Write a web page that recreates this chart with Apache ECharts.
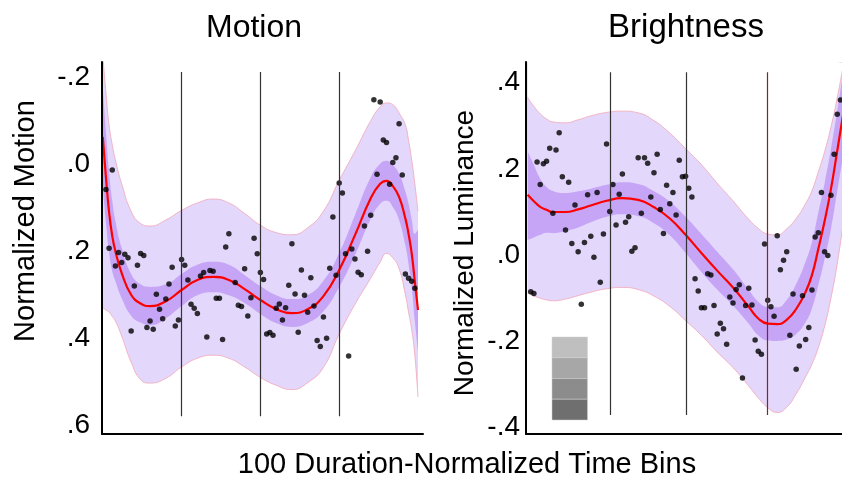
<!DOCTYPE html>
<html>
<head>
<meta charset="utf-8">
<script src="https://cdn.jsdelivr.net/npm/echarts@6/dist/echarts.min.js"></script>
<style>html,body{margin:0;padding:0;background:#fff}#c{width:842px;height:479px}</style>
</head>
<body>
<div id="c"></div>
<script>
// ---------- Motion panel ----------
const motionBins = [0,1,2,3,4,6,9,12,15,20,25,30,35,40,45,50,55,60,65,70,75,80,85,88,90,92,94,96,97,98,99,100];
const motionMean = [-0.063,0.03,0.11,0.165,0.20,0.25,0.30,0.32,0.326,0.315,0.289,0.266,0.259,0.266,0.287,0.312,0.333,0.342,0.333,0.303,0.243,0.163,0.078,0.045,0.038,0.050,0.075,0.125,0.160,0.205,0.270,0.335];
const motionInnerUpper = [-0.178,-0.074,0.018,0.084,0.131,0.192,0.252,0.276,0.282,0.276,0.252,0.231,0.224,0.231,0.255,0.280,0.301,0.310,0.301,0.268,0.204,0.117,0.030,-0.001,-0.008,0.002,0.022,0.063,0.091,0.127,0.160,0.150];
const motionInnerLower = [0.052,0.134,0.202,0.246,0.269,0.308,0.348,0.364,0.370,0.354,0.326,0.301,0.294,0.301,0.319,0.344,0.365,0.374,0.365,0.338,0.282,0.209,0.126,0.091,0.084,0.098,0.128,0.187,0.229,0.283,0.360,0.430];
const motionOuterUpper = [-0.25,-0.165,-0.09,-0.045,-0.01,0.045,0.108,0.136,0.142,0.128,0.106,0.089,0.080,0.089,0.113,0.140,0.157,0.162,0.146,0.108,0.037,-0.030,-0.100,-0.132,-0.141,-0.137,-0.118,-0.09,-0.055,-0.01,0.045,0.108];
const motionOuterLower = [0.33,0.335,0.34,0.35,0.36,0.395,0.455,0.495,0.503,0.492,0.466,0.446,0.439,0.446,0.466,0.490,0.508,0.518,0.502,0.467,0.390,0.322,0.262,0.225,0.205,0.215,0.240,0.300,0.340,0.380,0.440,0.535];
// one value per time bin, bins 1..99 (null = not visible)
const motionPoints = [0.058,0.193,0.013,0.234,0.203,0.226,0.207,0.215,0.383,0.280,
 0.232,0.205,0.210,0.375,0.360,0.379,0.299,0.333,0.355,0.310,
 0.275,0.237,0.372,0.358,0.219,0.232,0.266,0.322,0.331,0.343,
 0.257,0.249,0.397,0.244,0.246,0.308,0.308,0.403,0.190,0.160,
 null,0.272,0.324,0.327,0.240,0.349,0.307,0.170,0.206,0.249,
 0.265,0.390,0.387,0.393,0.331,0.321,0.358,0.330,0.278,0.183,
 0.298,0.386,0.243,0.301,0.340,0.261,0.326,0.405,0.419,0.351,
 0.400,0.239,0.121,0.255,0.043,0.066,0.206,0.441,0.195,0.218,
 0.248,0.254,0.142,0.200,0.117,-0.148,0.023,-0.143,-0.056,-0.050,
 0.046,-0.004,-0.015,-0.093,0.025,0.252,0.262,0.269,0.285];
const motionEvents = [25, 50, 75];
const motionTicks = [-0.2, 0, 0.2, 0.4, 0.6];

// ---------- Brightness panel ----------
const brightBins = [0,2,4,6,8,12,16,20,25,30,35,40,45,50,55,60,65,70,73,76,79,82,85,88,90,92,94,96,98,100];
const brightMean = [0.140,0.125,0.112,0.105,0.100,0.100,0.106,0.115,0.126,0.132,0.128,0.111,0.085,0.047,0.005,-0.036,-0.075,-0.120,-0.147,-0.159,-0.160,-0.150,-0.125,-0.085,-0.046,0.014,0.079,0.153,0.242,0.333];
const brightInnerUpper = [0.241,0.209,0.177,0.158,0.149,0.144,0.148,0.154,0.163,0.169,0.165,0.148,0.124,0.089,0.049,0.008,-0.033,-0.081,-0.108,-0.120,-0.121,-0.104,-0.067,-0.015,0.031,0.098,0.167,0.246,0.335,0.430];
const brightInnerLower = [0.035,0.041,0.047,0.052,0.051,0.056,0.064,0.076,0.089,0.095,0.091,0.074,0.046,0.005,-0.039,-0.080,-0.117,-0.159,-0.186,-0.198,-0.199,-0.196,-0.183,-0.155,-0.123,-0.070,-0.009,0.060,0.149,0.236];
const brightOuterUpper = [0.366,0.345,0.328,0.316,0.309,0.307,0.314,0.323,0.331,0.334,0.330,0.312,0.283,0.247,0.210,0.167,0.126,0.083,0.062,0.049,0.047,0.061,0.085,0.120,0.150,0.193,0.240,0.297,0.365,0.445];
const brightOuterLower = [-0.088,-0.095,-0.100,-0.104,-0.106,-0.102,-0.094,-0.086,-0.078,-0.075,-0.080,-0.095,-0.119,-0.152,-0.186,-0.225,-0.261,-0.304,-0.331,-0.354,-0.365,-0.353,-0.322,-0.282,-0.253,-0.215,-0.165,-0.100,-0.020,0.080];
const brightPoints = [-0.085,-0.089,0.216,0.164,0.212,0.218,0.248,0.097,0.244,0.284,
 0.182,0.058,0.169,0.027,0.116,0.008,-0.114,0.029,0.140,0.044,
 -0.005,0.145,-0.063,0.049,0.258,0.101,0.164,0.070,0.141,0.188,
 0.076,0.089,0.009,0.017,0.226,0.097,0.226,0.213,0.135,0.191,
 0.234,0.106,0.050,0.162,0.119,0.145,0.093,0.220,0.182,0.183,
 0.155,0.135,-0.055,-0.083,-0.122,-0.122,-0.043,-0.046,-0.117,-0.183,
 -0.158,-0.171,-0.207,-0.097,-0.111,-0.080,-0.069,-0.285,-0.117,-0.077,
 -0.116,-0.197,-0.223,-0.230,0.026,-0.105,-0.120,-0.142,0.045,-0.034,
 -0.012,0.008,-0.186,-0.090,-0.265,-0.211,-0.094,-0.196,-0.168,-0.081,
 0.042,0.052,0.145,0.008,-0.001,0.139,0.234,0.327,0.360];
const brightEvents = [26.3, 50.3, 76];
const brightTicks = [-0.4, -0.2, 0, 0.2, 0.4];

// ---------- text ----------
const titles = ['Motion', 'Brightness'];
const yNames = ['Normalized Motion', 'Normalized Luminance'];
const xName = '100 Duration-Normalized Time Bins';
const legendShades = ['#bfbfbf', '#a7a7a7', '#8c8c8c', '#6f6f6f'];

const FONT = '"Liberation Sans", Arial, Helvetica, sans-serif';
const OUTER = '#e3d7fb', INNER = '#c6a5f6', EDGE = '#f2a6b6', RED = '#ff0000', BG = '#ffffff';

function fmt(v) {
  if (Math.abs(v) < 1e-9) return '.0';
  return v.toFixed(1).replace('0.', '.');
}

// area from an edge curve to the top of the plot (layered painting gives the bands)
function edgeArea(idx, bins, vals, fill, edge, origin) {
  return {
    type: 'line', xAxisIndex: idx, yAxisIndex: idx, smooth: true, symbol: 'none', silent: true,
    z: 1, animation: false,
    data: bins.map((b, i) => [b, vals[i]]),
    lineStyle: { width: edge ? 0.8 : 0, color: edge || 'rgba(0,0,0,0)' },
    areaStyle: { color: fill, opacity: 1, origin: origin }
  };
}

function eventLines(events, top, bottom, colors) {
  return events.map((e, i) => [
    { coord: [e, top], lineStyle: { color: colors[i], width: 1.2, type: 'solid' } },
    { coord: [e, bottom] }
  ]);
}

function panelSeries(idx, origin, bins, mean, iu, il, ou, ol, pts, events, top, bottom, lineColors) {
  return [
    edgeArea(idx, bins, ol, OUTER, EDGE, origin),
    edgeArea(idx, bins, il, INNER, null, origin),
    edgeArea(idx, bins, iu, OUTER, null, origin),
    edgeArea(idx, bins, ou, BG, EDGE, origin),
    {
      type: 'line', xAxisIndex: idx, yAxisIndex: idx, smooth: true, symbol: 'none', silent: true,
      data: bins.map((b, i) => [b, mean[i]]), lineStyle: { color: RED, width: 2.2 }, z: 3, animation: false
    }, {
      type: 'scatter', xAxisIndex: idx, yAxisIndex: idx, symbolSize: 5.5, silent: true, z: 4, animation: false,
      itemStyle: { color: '#000' },
      data: pts.map((v, i) => [i + 1, v]).filter(d => d[1] !== null),
      markLine: {
        silent: true, symbol: 'none', label: { show: false }, animation: false,
        lineStyle: { color: '#333', width: 1.2, type: 'solid' },
        data: eventLines(events, top, bottom, lineColors)
      }
    }
  ];
}

const axisLine = { show: true, onZero: false, lineStyle: { color: '#000', width: 2 } };

const option = {
  backgroundColor: '#fff',
  animation: false,
  grid: [
    { left: 102, top: 62, width: 321, height: 372 },
    { left: 526, top: 62, width: 316, height: 372 }
  ],
  xAxis: [
    { gridIndex: 0, type: 'value', z: 10, min: -0.25, max: 101.586, axisLine: axisLine, axisTick: { show: false }, axisLabel: { show: false }, splitLine: { show: false } },
    { gridIndex: 1, type: 'value', z: 10, min: -0.5, max: 99.5, axisLine: axisLine, axisTick: { show: false }, axisLabel: { show: false }, splitLine: { show: false } }
  ],
  yAxis: [
    { gridIndex: 0, type: 'value', z: 10, inverse: true, min: -0.235, max: 0.62,
      axisLine: axisLine, axisTick: { show: false }, splitLine: { show: false },
      axisLabel: { customValues: motionTicks, formatter: fmt, fontSize: 28, fontFamily: FONT, color: '#000', margin: 12 } },
    { gridIndex: 1, type: 'value', z: 10, min: -0.415, max: 0.448,
      axisLine: axisLine, axisTick: { show: false }, splitLine: { show: false },
      axisLabel: { customValues: brightTicks, formatter: fmt, fontSize: 28, fontFamily: FONT, color: '#000', margin: 6 } }
  ],
  series: [].concat(
    panelSeries(0, 'start', motionBins, motionMean, motionInnerUpper, motionInnerLower, motionOuterUpper, motionOuterLower,
      motionPoints, motionEvents, -0.212, 0.579, ['#333', '#333', '#333']),
    panelSeries(1, 'end', brightBins, brightMean, brightInnerUpper, brightInnerLower, brightOuterUpper, brightOuterLower,
      brightPoints, brightEvents, 0.424, -0.371, ['#333', '#333', '#8b2222'])
  ),
  graphic: [
    { type: 'text', x: 254, y: 28, z: 10, style: { text: titles[0], font: '32px ' + FONT, fill: '#000', align: 'center', verticalAlign: 'middle', textAlign: 'center', textVerticalAlign: 'middle' } },
    { type: 'text', x: 686, y: 28, z: 10, style: { text: titles[1], font: '33px ' + FONT, fill: '#000', align: 'center', verticalAlign: 'middle', textAlign: 'center', textVerticalAlign: 'middle' } },
    { type: 'text', x: 26, y: 221, rotation: Math.PI / 2, z: 10, style: { text: yNames[0], font: '29px ' + FONT, fill: '#000', align: 'center', verticalAlign: 'middle', textAlign: 'center', textVerticalAlign: 'middle' } },
    { type: 'text', x: 465, y: 253, rotation: Math.PI / 2, z: 10, style: { text: yNames[1], font: '28px ' + FONT, fill: '#000', align: 'center', verticalAlign: 'middle', textAlign: 'center', textVerticalAlign: 'middle' } },
    { type: 'text', x: 467, y: 465, z: 10, style: { text: xName, font: '29px ' + FONT, fill: '#000', align: 'center', verticalAlign: 'middle', textAlign: 'center', textVerticalAlign: 'middle' } }
  ].concat(legendShades.map((c, i) => ({
    type: 'rect', z: 10, shape: { x: 552, y: 337 + i * 20.75, width: 35.5, height: 20.75 },
    style: { fill: c, stroke: '#d0d0d0', lineWidth: 0.5 }
  })))
};

const chart = echarts.init(document.getElementById('c'), null, { renderer: 'canvas' });
chart.setOption(option);
</script>
</body>
</html>
